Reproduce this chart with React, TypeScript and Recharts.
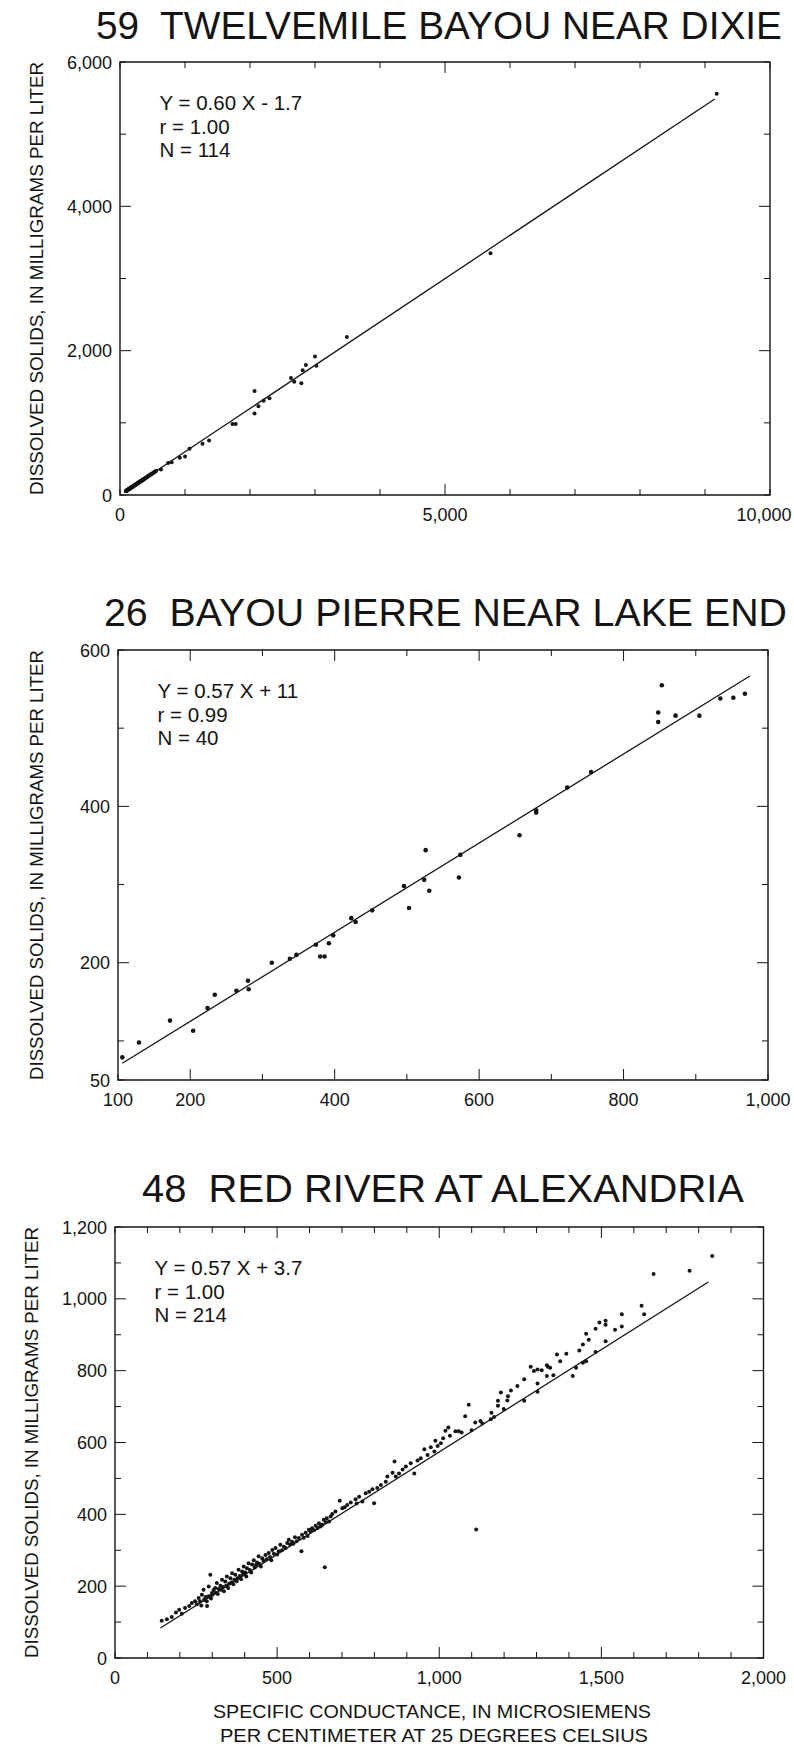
import { ReferenceArea, ReferenceLine, Scatter, ScatterChart, XAxis, YAxis } from "recharts";

const FONT = '"Liberation Sans", Arial, Helvetica, sans-serif';
const INK = "#141414";
const PAGE_W = 794;
const MAJOR = 11;
const MINOR = 6;
// room around the plot rectangle inside each chart svg
const AXIS_W = 112;
const AXIS_H = 40;
const PAD = 12;

// 59 Twelvemile Bayou near Dixie (conductance, dissolved solids)
const dixiePoints: [number, number][] = [
  [92, 58], [98, 62], [100, 57], [104, 60], [108, 66], [112, 69], [116, 72], [118, 70], [121, 74], [126, 77],
  [130, 76], [134, 82], [138, 84], [141, 83], [143, 87], [146, 90], [150, 88], [153, 93], [157, 95], [161, 97],
  [165, 101], [168, 99], [172, 104], [176, 107], [180, 106], [183, 112], [185, 109], [187, 111], [191, 116], [195, 118],
  [199, 117], [203, 124], [207, 122], [211, 128], [215, 131], [219, 129], [224, 135], [228, 138], [232, 137], [236, 144],
  [240, 142], [241, 146], [245, 145], [249, 152], [254, 150], [258, 157], [263, 159], [267, 158], [272, 165], [277, 168],
  [281, 166], [286, 173], [291, 176], [296, 175], [300, 178], [301, 183], [306, 181], [311, 189], [316, 192], [322, 190],
  [327, 198], [333, 201], [338, 199], [344, 208], [350, 210], [356, 209], [362, 219], [368, 222], [374, 220], [381, 230],
  [388, 233], [395, 236], [402, 241], [410, 246], [418, 250], [426, 258], [434, 262], [443, 265], [452, 273], [461, 276],
  [470, 284], [480, 287], [490, 296], [500, 299], [511, 308], [522, 312], [534, 322], [546, 326], [558, 336],
  [630, 355], [740, 445], [795, 455], [920, 515], [1000, 535], [1070, 640], [1270, 710], [1370, 755], [1730, 985], [1780, 985],
  [2070, 1440], [2070, 1130], [2130, 1230], [2210, 1305], [2300, 1340], [2630, 1620], [2680, 1570], [2790, 1550], [2810, 1730], [2860, 1800],
  [3000, 1920], [3020, 1790], [3490, 2190], [5700, 3350], [9180, 5560],
];
const dixieFit = { slope: 0.6, intercept: -1.7, r: "1.00", from: 60, to: 9150 };
const dixieXTicks = [0, 1000, 2000, 3000, 4000, 5000, 6000, 7000, 8000, 9000, 10000];
const dixieXLabels = [0, 5000, 10000];
const dixieXMajor = [5000];
const dixieYTicks = [0, 1000, 2000, 3000, 4000, 5000, 6000];
const dixieYLabels = [0, 2000, 4000, 6000];
const dixieYMajor = [2000, 4000];

// 26 Bayou Pierre near Lake End
const pierrePoints: [number, number][] = [
  [106, 79], [129, 98], [172, 126], [204, 113], [224, 142], [234, 159], [264, 164], [280, 177], [281, 166], [313, 200],
  [338, 205], [347, 210], [374, 223], [380, 208], [386, 208], [392, 225], [398, 235], [423, 257], [429, 252], [452, 267],
  [496, 298], [503, 270], [524, 306], [526, 344], [531, 292], [572, 309], [574, 338], [656, 363], [679, 392], [679, 395],
  [722, 424], [755, 444], [848, 520], [848, 508], [853, 555], [872, 516], [905, 516], [934, 538], [952, 539], [968, 544],
];
const pierreFit = { slope: 0.57, intercept: 11, r: "0.99", from: 106, to: 975 };
const pierreXTicks = [100, 200, 300, 400, 500, 600, 700, 800, 900, 1000];
const pierreXLabels = [100, 200, 400, 600, 800, 1000];
const pierreXMajor = [200, 400, 600, 800];
const pierreYTicks = [50, 100, 200, 300, 400, 500, 600];
const pierreYLabels = [50, 200, 400, 600];
const pierreYMajor = [200, 400];

// 48 Red River at Alexandria
const redPoints: [number, number][] = [
  [144, 104], [160, 108], [175, 114], [188, 127], [198, 134], [206, 123], [216, 139], [229, 145], [237, 153], [247, 158],
  [252, 150], [258, 167], [262, 158], [266, 146], [268, 176], [273, 190], [275, 162], [279, 170], [283, 158], [284, 145],
  [287, 171], [289, 199], [292, 172], [294, 232], [296, 166], [299, 181], [301, 176], [304, 189], [309, 195], [311, 182],
  [314, 209], [317, 178], [320, 192], [325, 201], [327, 190], [330, 218], [333, 198], [336, 186], [340, 213], [343, 201],
  [345, 227], [349, 195], [352, 207], [356, 222], [359, 210], [361, 236], [365, 205], [368, 218], [371, 232], [375, 214],
  [378, 222], [381, 246], [385, 228], [389, 219], [392, 241], [395, 233], [397, 255], [402, 238], [405, 227], [407, 250],
  [412, 264], [416, 245], [420, 238], [423, 260], [428, 272], [431, 252], [435, 259], [438, 266], [443, 283], [446, 262],
  [450, 255], [454, 278], [458, 270], [464, 287], [468, 275], [474, 292], [478, 281], [482, 272], [485, 301], [490, 290],
  [495, 306], [500, 288], [505, 297], [510, 315], [515, 300], [521, 310], [526, 306], [531, 320], [536, 329], [540, 316],
  [546, 324], [550, 318], [555, 336], [560, 325], [567, 334], [575, 297], [577, 343], [582, 335], [588, 349], [594, 340],
  [598, 357], [603, 352], [608, 361], [614, 356], [619, 368], [625, 362], [629, 375], [634, 366], [639, 371], [644, 385],
  [647, 253], [650, 378], [653, 389], [660, 380], [665, 394], [670, 401], [680, 408], [693, 438], [701, 417], [708, 420],
  [716, 426], [727, 433], [742, 442], [745, 430], [753, 449], [763, 436], [773, 459], [784, 463], [794, 470], [799, 431],
  [809, 473], [820, 482], [835, 491], [840, 505], [856, 516], [862, 547], [866, 505], [876, 514], [887, 525], [897, 533],
  [912, 542], [923, 514], [933, 550], [943, 556], [954, 581], [964, 565], [974, 587], [985, 575], [988, 605], [995, 590],
  [1005, 598], [1012, 612], [1019, 633], [1028, 642], [1033, 619], [1050, 631], [1060, 631], [1069, 628], [1080, 673], [1091, 705],
  [1100, 634], [1111, 656], [1114, 358], [1127, 660], [1133, 653], [1159, 665], [1161, 683], [1169, 671], [1181, 716], [1181, 702],
  [1190, 739], [1199, 693], [1210, 717], [1212, 729], [1221, 745], [1241, 757], [1262, 776], [1262, 716], [1282, 811], [1292, 799],
  [1303, 803], [1303, 764], [1303, 741], [1316, 801], [1332, 815], [1332, 785], [1335, 811], [1342, 808], [1352, 787], [1363, 845],
  [1373, 826], [1392, 847], [1412, 785], [1422, 808], [1432, 856], [1443, 873], [1443, 822], [1453, 903], [1453, 826], [1461, 886],
  [1482, 917], [1482, 852], [1494, 934], [1513, 939], [1513, 928], [1513, 882], [1542, 914], [1563, 957], [1563, 923], [1624, 981],
  [1632, 957], [1661, 1069], [1772, 1078], [1842, 1119],
];
const redFit = { slope: 0.57, intercept: 3.7, r: "1.00", from: 140, to: 1830 };
const redXTicks = [0, 100, 200, 300, 400, 500, 600, 700, 800, 900, 1000, 1100, 1200, 1300, 1400, 1500, 1600, 1700, 1800, 1900, 2000];
const redXLabels = [0, 500, 1000, 1500, 2000];
const redXMajor = [500, 1000, 1500];
const redYTicks = [0, 100, 200, 300, 400, 500, 600, 700, 800, 900, 1000, 1100, 1200];
const redYLabels = [0, 200, 400, 600, 800, 1000, 1200];
const redYMajor = [200, 400, 600, 800, 1000];

const Y_TITLE = "DISSOLVED SOLIDS, IN MILLIGRAMS PER LITER";
const X_TITLE = ["SPECIFIC CONDUCTANCE, IN MICROSIEMENS", "PER CENTIMETER AT 25 DEGREES CELSIUS"];

type Fit = { slope: number; intercept: number; r: string; from: number; to: number };
type Plot = { left: number; top: number; width: number; height: number };
type Panel = {
  title: string;
  titleX: number;
  titleW: number;
  titleY: number;
  yTitleX: number;
  dotR: number;
  plot: Plot;
  points: [number, number][];
  fit: Fit;
  xDomain: [number, number];
  yDomain: [number, number];
  xTicks: number[];
  xLabels: number[];
  xMajor: number[];
  yTicks: number[];
  yLabels: number[];
  yMajor: number[];
};

const panels: Panel[] = [
  {
    title: "59  TWELVEMILE BAYOU NEAR DIXIE", titleX: 96, titleW: 686, titleY: 39, yTitleX: 36, dotR: 2,
    plot: { left: 119.5, top: 62, width: 650, height: 433 },
    points: dixiePoints, fit: dixieFit, xDomain: [0, 10000], yDomain: [0, 6000],
    xTicks: dixieXTicks, xLabels: dixieXLabels, xMajor: dixieXMajor,
    yTicks: dixieYTicks, yLabels: dixieYLabels, yMajor: dixieYMajor,
  },
  {
    title: "26  BAYOU PIERRE NEAR LAKE END", titleX: 104, titleW: 683, titleY: 626, yTitleX: 36, dotR: 2.3,
    plot: { left: 117.5, top: 650, width: 650, height: 430 },
    points: pierrePoints, fit: pierreFit, xDomain: [100, 1000], yDomain: [50, 600],
    xTicks: pierreXTicks, xLabels: pierreXLabels, xMajor: pierreXMajor,
    yTicks: pierreYTicks, yLabels: pierreYLabels, yMajor: pierreYMajor,
  },
  {
    title: "48  RED RIVER AT ALEXANDRIA", titleX: 142, titleW: 602, titleY: 1202, yTitleX: 31, dotR: 2,
    plot: { left: 114.5, top: 1227, width: 648.5, height: 431 },
    points: redPoints, fit: redFit, xDomain: [0, 2000], yDomain: [0, 1200],
    xTicks: redXTicks, xLabels: redXLabels, xMajor: redXMajor,
    yTicks: redYTicks, yLabels: redYLabels, yMajor: redYMajor,
  },
];

const fmt = (v: number) => v.toLocaleString("en-US");

// rough width of a tick label at 18px, used to keep the last one on the page
const labelWidth = (s: string) => s.replace(/,/g, "").length * 10 + (s.length - s.replace(/,/g, "").length) * 5;

// bottom axis: inward ticks on the bottom edge, mirrored on the top edge
function xTick(plotH: number, labels: number[], majors: number[], maxRight: number) {
  return (p: any) => {
    const v = p.payload.value as number;
    const len = majors.includes(v) ? MAJOR : MINOR;
    const top = p.y - plotH;
    const label = fmt(v);
    const w = labelWidth(label);
    const clamp = p.x + w / 2 > maxRight;
    return (
      <g>
        <line x1={p.x} x2={p.x} y1={p.y} y2={p.y - len} stroke={INK} strokeWidth={1} />
        <line x1={p.x} x2={p.x} y1={top} y2={top + len} stroke={INK} strokeWidth={1} />
        {labels.includes(v) && (
          <text
            x={clamp ? maxRight : p.x}
            y={p.y + 26}
            textAnchor={clamp ? "end" : "middle"}
            fontSize={18}
            fontFamily={FONT}
            fill={INK}
          >
            {label}
          </text>
        )}
      </g>
    );
  };
}

// left axis: inward ticks on the left edge, mirrored on the right edge
function yTick(plotW: number, labels: number[], majors: number[]) {
  return (p: any) => {
    const v = p.payload.value as number;
    const len = majors.includes(v) ? MAJOR : MINOR;
    const right = p.x + plotW;
    return (
      <g>
        <line x1={p.x} x2={p.x + len} y1={p.y} y2={p.y} stroke={INK} strokeWidth={1} />
        <line x1={right} x2={right - len} y1={p.y} y2={p.y} stroke={INK} strokeWidth={1} />
        {labels.includes(v) && (
          <text x={p.x - 8} y={p.y + 6.5} textAnchor="end" fontSize={18} fontFamily={FONT} fill={INK}>
            {fmt(v)}
          </text>
        )}
      </g>
    );
  };
}

function StationChart({ panel }: { panel: Panel }) {
  const { plot, fit } = panel;
  const padRight = PAGE_W - (plot.left + plot.width);
  const width = AXIS_W + plot.width + padRight;
  const height = PAD + plot.height + AXIS_H;
  const data = panel.points.map(([x, y]) => ({ x, y }));
  const line = [
    { x: fit.from, y: fit.slope * fit.from + fit.intercept },
    { x: fit.to, y: fit.slope * fit.to + fit.intercept },
  ];
  const dot = (p: any) => <circle cx={p.cx} cy={p.cy} r={panel.dotR} fill={INK} />;
  return (
    <div style={{ position: "absolute", left: plot.left - AXIS_W, top: plot.top - PAD }}>
      <ScatterChart width={width} height={height} margin={{ top: PAD, right: padRight, bottom: 0, left: 0 }}>
        <XAxis
          type="number"
          dataKey="x"
          domain={panel.xDomain}
          ticks={panel.xTicks}
          interval={0}
          allowDataOverflow
          height={AXIS_H}
          axisLine={false}
          tickLine={false}
          tickSize={0}
          tickMargin={0}
          tick={xTick(plot.height, panel.xLabels, panel.xMajor, width - 3)}
        />
        <YAxis
          type="number"
          dataKey="y"
          domain={panel.yDomain}
          ticks={panel.yTicks}
          interval={0}
          allowDataOverflow
          width={AXIS_W}
          axisLine={false}
          tickLine={false}
          tickSize={0}
          tickMargin={0}
          tick={yTick(plot.width, panel.yLabels, panel.yMajor)}
        />
        <ReferenceArea
          x1={panel.xDomain[0]}
          x2={panel.xDomain[1]}
          y1={panel.yDomain[0]}
          y2={panel.yDomain[1]}
          fill="none"
          fillOpacity={0}
          stroke={INK}
          strokeWidth={1.4}
        />
        <ReferenceLine segment={line} stroke={INK} strokeWidth={1.3} />
        <Scatter data={data} shape={dot} isAnimationActive={false} />
      </ScatterChart>
    </div>
  );
}

function PanelText({ panel }: { panel: Panel }) {
  const { plot, fit } = panel;
  const sign = fit.intercept < 0 ? "-" : "+";
  const stats = [
    `Y = ${fit.slope.toFixed(2)} X ${sign} ${Math.abs(fit.intercept)}`,
    `r = ${fit.r}`,
    `N = ${panel.points.length}`,
  ];
  const cy = plot.top + plot.height / 2;
  const bx = panel.yTitleX + 6.5;
  return (
    <g fill={INK} fontFamily={FONT}>
      <text
        x={panel.titleX}
        y={panel.titleY}
        fontSize={38}
        textLength={panel.titleW}
        lengthAdjust="spacingAndGlyphs"
        style={{ whiteSpace: "pre" }}
      >
        {panel.title}
      </text>
      {stats.map((s, i) => (
        <text key={s} x={plot.left + 40} y={plot.top + 48 + i * 23.5} fontSize={20.5}>
          {s}
        </text>
      ))}
      <text
        x={bx}
        y={cy}
        fontSize={18}
        textAnchor="middle"
        textLength={plot.height}
        lengthAdjust="spacingAndGlyphs"
        transform={`rotate(-90 ${bx} ${cy})`}
      >
        {Y_TITLE}
      </text>
    </g>
  );
}

export default function App() {
  const last = panels[2].plot;
  return (
    <div style={{ position: "absolute", left: 0, top: 0, width: PAGE_W, height: 1751, background: "#fff" }}>
      {panels.map((p) => (
        <StationChart key={p.title} panel={p} />
      ))}
      <svg width={PAGE_W} height={1751} style={{ position: "absolute", left: 0, top: 0, pointerEvents: "none" }}>
        {panels.map((p) => (
          <PanelText key={p.title} panel={p} />
        ))}
        <g fill={INK} fontFamily={FONT} fontSize={18.5} textAnchor="middle">
          <text x={432} y={last.top + last.height + 60} textLength={438} lengthAdjust="spacingAndGlyphs">
            {X_TITLE[0]}
          </text>
          <text x={434} y={last.top + last.height + 84} textLength={428} lengthAdjust="spacingAndGlyphs">
            {X_TITLE[1]}
          </text>
        </g>
      </svg>
    </div>
  );
}
